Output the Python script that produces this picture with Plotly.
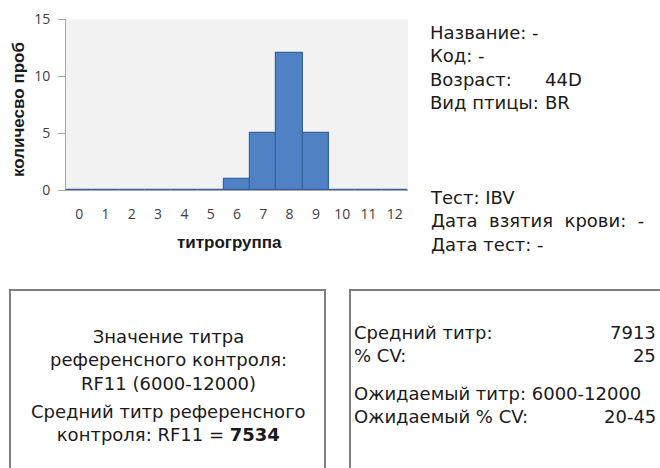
import plotly.graph_objects as go

# ---- data ----
categories = [0, 1, 2, 3, 4, 5, 6, 7, 8, 9, 10, 11, 12]
counts = [0, 0, 0, 0, 0, 0, 1, 5, 12, 5, 0, 0, 0]
y_ticks = [0, 5, 10, 15]

NB = "\u00a0"
info_labels = ["Название: -", "Код: -", "Возраст:", "Вид птицы:"]
info_values = ["", "", "44D", "BR"]
info_bottom = ["Тест: IBV", "Дата" + NB * 2 + "взятия" + NB * 2 + "крови:" + NB * 2 + "-", "Дата тест: -"]
left_box_a = ["Значение титра", "референсного контроля:", "RF11 (6000-12000)"]
left_box_b = ["Средний титр референсного", "контроля: RF11 = <b>7534</b>"]
right_labels_a = ["Средний титр:", "% CV:"]
right_values_a = ["7913", "25"]
right_labels_b = ["Ожидаемый титр: 6000-12000", "Ожидаемый % CV:"]
right_values_b = ["20-45"]

W, H = 660, 468
L, R, T, B = 66, 408, 19, 190
FONT = "DejaVu Sans"


def px(x):
    return (x - L) / (R - L)


def py(y):
    return (B - y) / (B - T)


fig = go.Figure()
fig.add_trace(go.Bar(
    x=categories, y=counts,
    marker=dict(color="#4f81c4", line=dict(color="#35659e", width=1.2)),
    width=1.0,
))

ann = []
def add(x, y, lines, xanchor="left", font=None, angle=0):
    ann.append(dict(x=px(x), y=py(y), xref="paper", yref="paper", text="<br>".join(lines),
                    textangle=angle, font=font, showarrow=False, align=xanchor,
                    xanchor=xanchor, yanchor="middle"))

title_font = dict(size=17, color="#1a1a1a", family="Liberation Sans")
add(18, 110, ["<b>количесво проб</b>"], "center", title_font, -90)
add(229, 242, ["<b>титрогруппа</b>"], "center", title_font)

tf = dict(size=18, color="#1a1a1a", family=FONT)
add(428, 67, info_labels, "left", tf)
add(543, 67, [v if v else NB for v in info_values], "left", tf)
add(428, 221, info_bottom, "left", tf)

add(168, 360, left_box_a, "center", tf)
add(168, 423.5, left_box_b, "center", tf)

add(352, 344, right_labels_a, "left", tf)
add(658, 344, right_values_a, "right", tf)
add(352, 404.5, right_labels_b, "left", tf)
add(658, 416, right_values_b, "right", tf)

shapes = [
    dict(type="rect", xref="paper", yref="paper", x0=px(10), x1=px(325), y0=py(290), y1=py(480),
         line=dict(color="#7f7f7f", width=2)),
    dict(type="rect", xref="paper", yref="paper", x0=px(350), x1=px(680), y0=py(290), y1=py(480),
         line=dict(color="#7f7f7f", width=2)),
]

fig.update_layout(
    width=W, height=H,
    margin=dict(l=L, r=W - R, t=T, b=H - B, pad=0, autoexpand=False),
    paper_bgcolor="white", plot_bgcolor="#f2f2f2",
    showlegend=False, bargap=0,
    annotations=ann, shapes=shapes,
    font=dict(family=FONT),
)
fig.update_xaxes(range=[-0.5, 12.5], tickmode="array", tickvals=categories,
                 ticktext=[str(c) for c in categories], showgrid=False, zeroline=False,
                 showline=True, linecolor="#a6a6a6", linewidth=1, ticks="",
                 tickfont=dict(size=14, color="#404040", family="Open Sans"), ticklabelstandoff=11,
                 automargin=False)
fig.update_yaxes(range=[0, 15], tickvals=y_ticks, showgrid=False, zeroline=False,
                 showline=True, linecolor="#a6a6a6", linewidth=1, ticks="outside", ticklen=7,
                 tickcolor="#a6a6a6", tickfont=dict(size=14, color="#404040", family="Open Sans"),
                 ticklabelstandoff=5, automargin=False)

fig.write_html("out.html", config={"displayModeBar": False},
               post_script="document.body.style.margin='0px';document.body.style.overflow='hidden';")
